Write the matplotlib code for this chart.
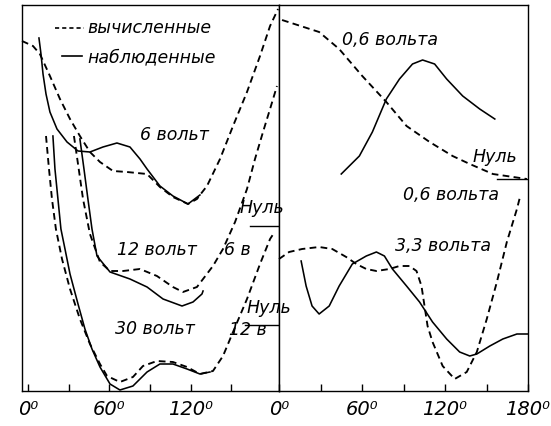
import matplotlib
matplotlib.use("Agg")
import matplotlib.pyplot as plt
from matplotlib.lines import Line2D

# ----------------------------
# data: angle (deg), intensity (arbitrary units)
# ----------------------------
# left panel
v6_calc_x = [-4.4, 3.7, 8.8, 16.2, 23.6, 31.0, 38.3, 45.7, 53.1, 62.7, 73.0, 87.8, 97.3, 106.9, 118.0, 124.6, 129.1, 132.0, 141.6, 151.2, 161.5, 171.1, 178.5, 184.4]
v6_calc_y = [350, 345, 337, 315, 292, 272, 255, 239, 229, 220, 219, 217, 204, 194, 187, 192, 200, 205, 232, 265, 299, 335, 365, 382]
v6_obs_x = [8.1, 9.6, 11.1, 13.3, 16.2, 21.4, 28.8, 36.9, 45.7, 55.3, 65.6, 75.2, 82.6, 87.8, 97.3, 106.9, 118.0, 126.8]
v6_obs_y = [353, 337, 317, 297, 279, 262, 249, 240, 239, 244, 248, 244, 232, 222, 205, 195, 187, 196]

v12_calc_x = [33.9, 36.9, 40.6, 45.7, 53.1, 60.5, 70.1, 82.6, 95.1, 106.9, 114.3, 124.6, 129.1, 136.4, 143.8, 152.7, 161.5, 167.4, 173.3, 178.5, 183.6]
v12_calc_y = [255, 227, 192, 157, 129, 120, 120, 122, 115, 104, 99, 104, 112, 125, 142, 169, 202, 232, 259, 282, 305]
v12_obs_x = [38.3, 41.3, 44.2, 47.2, 50.9, 60.5, 75.2, 87.8, 99.6, 113.6, 121.7, 128.3, 129.1]
v12_obs_y = [252, 222, 192, 162, 135, 119, 112, 104, 92, 85, 89, 97, 100]

v30_calc_x = [13.3, 15.5, 17.7, 20.6, 25.1, 31.0, 38.3, 45.7, 53.1, 58.3, 67.8, 77.4, 84.8, 95.1, 106.9, 117.3, 126.8, 136.4, 143.8, 151.2, 161.5, 171.1, 178.5, 181.4]
v30_calc_y = [255, 222, 192, 162, 132, 102, 72, 47, 27, 15, 9, 14, 25, 30, 29, 24, 17, 20, 35, 59, 92, 127, 152, 158]
v30_obs_x = [18.4, 19.9, 22.1, 24.3, 27.3, 31.0, 36.9, 42.0, 47.2, 53.1, 60.5, 67.8, 77.4, 87.8, 97.3, 106.9, 117.3, 126.8, 134.2]
v30_obs_y = [255, 222, 192, 162, 142, 117, 87, 62, 42, 24, 7, 1, 5, 19, 27, 27, 22, 17, 19]

# right panel
v06_calc_x = [2.2, 29.0, 43.5, 60.2, 77.6, 92.2, 108.9, 125.5, 137.9, 154.6, 179.2]
v06_calc_y = [371, 359, 342, 315, 289, 265, 249, 235, 227, 217, 212]
v06_obs_x = [45.0, 58.1, 67.5, 77.6, 87.1, 96.5, 103.8, 112.5, 121.2, 132.8, 145.1, 156.0]
v06_obs_y = [217, 235, 259, 292, 312, 327, 331, 327, 312, 295, 282, 272]

v33_calc_x = [0, 7.3, 16.7, 29.0, 38.5, 48.6, 55.9, 63.1, 70.4, 79.8, 87.1, 94.3, 99.4, 103.0, 105.2, 107.4, 111.0, 118.3, 127.0, 135.7, 143.0, 150.2, 157.5, 164.7, 172.0, 174.2]
v33_calc_y = [132, 139, 142, 144, 142, 134, 127, 122, 120, 122, 125, 125, 120, 105, 85, 65, 49, 25, 12, 19, 39, 72, 109, 149, 182, 194]
v33_obs_x = [16.0, 19.6, 23.9, 29.0, 36.3, 43.5, 53.0, 63.1, 70.4, 76.2, 82.0, 92.2, 101.6, 111.0, 121.2, 130.6, 137.9, 143.0, 152.4, 161.8, 172.0, 180]
v33_obs_y = [130, 105, 85, 77, 85, 105, 127, 135, 139, 135, 122, 105, 89, 69, 52, 39, 35, 37, 45, 52, 57, 57]

# zero levels ("Нуль")
zero_left_6 = 165
zero_left_12 = 66
zero_right_06 = 212

left_ticks = [0, 60, 120]
left_ticklabels = ["0⁰", "60⁰", "120⁰"]
right_ticks = [0, 60, 120, 180]
right_ticklabels = ["0⁰", "60⁰", "120⁰", "180⁰"]

W, H = 551, 427
DASH = (0, (3.6, 2.3))


def px(x, y):
    # pixel position -> figure fraction
    return x / W, 1 - y / H


fig = plt.figure(figsize=(W / 100, H / 100), dpi=100)
ax1 = fig.add_axes([22 / W, 35 / H, 257 / W, 386 / H])
ax2 = fig.add_axes([279 / W, 35 / H, 249 / W, 386 / H])

ax1.set_xlim(-4.4, 185.1)
ax2.set_xlim(0, 180)
for ax in (ax1, ax2):
    ax.set_ylim(0, 386)
    ax.set_yticks([])
    for s in ax.spines.values():
        s.set_linewidth(1.0)
    ax.tick_params(axis="x", which="both", direction="in", length=5, width=1, pad=6)

ax1.set_xticks(left_ticks)
ax1.set_xticklabels(left_ticklabels, fontsize=14, fontstyle="italic")
ax1.set_xticks([30, 90, 150], minor=True)
ax2.set_xticks(right_ticks)
ax2.set_xticklabels(right_ticklabels, fontsize=14, fontstyle="italic")
ax2.set_xticks([30, 90, 150], minor=True)

kw_c = dict(color="black", lw=1.35, linestyle=DASH, clip_on=False)
kw_o = dict(color="black", lw=1.15, solid_joinstyle="round", clip_on=False)

ax1.plot(v6_calc_x, v6_calc_y, **kw_c)
ax1.plot(v6_obs_x, v6_obs_y, **kw_o)
ax1.plot(v12_calc_x, v12_calc_y, **kw_c)
ax1.plot(v12_obs_x, v12_obs_y, **kw_o)
ax1.plot(v30_calc_x, v30_calc_y, **kw_c)
ax1.plot(v30_obs_x, v30_obs_y, **kw_o)

ax2.plot(v06_calc_x, v06_calc_y, **kw_c)
ax2.plot(v06_obs_x, v06_obs_y, **kw_o)
ax2.plot(v33_calc_x, v33_calc_y, **kw_c)
ax2.plot(v33_obs_x, v33_obs_y, **kw_o)

# zero lines
ax1.plot([163.7, 185.1], [zero_left_6, zero_left_6], color="black", lw=1)
ax1.plot([160.0, 185.1], [zero_left_12, zero_left_12], color="black", lw=1)
ax2.plot([157.5, 180], [zero_right_06, zero_right_06], color="black", lw=1)

# legend drawn by hand
fig.add_artist(Line2D([55 / W, 84 / W], [1 - 29 / H, 1 - 29 / H], color="black", lw=1.2, linestyle=(0, (2.5, 1.8))))
fig.add_artist(Line2D([62 / W, 82 / W], [1 - 57 / H, 1 - 57 / H], color="black", lw=1.2))

txt = dict(ha="left", va="center", fontstyle="italic", fontsize=12.5)
labels = [
    (87, 28, "вычисленные"),
    (87, 57, "наблюденные"),
    (140, 135, "6 вольт"),
    (117, 250, "12 вольт"),
    (224, 250, "6 в"),
    (115, 329, "30 вольт"),
    (229, 330, "12 в"),
    (240, 208, "Нуль"),
    (247, 308, "Нуль"),
    (342, 40, "0,6 вольта"),
    (473, 157, "Нуль"),
    (403, 195, "0,6 вольта"),
    (395, 246, "3,3 вольта"),
]
for x, y, s in labels:
    fx, fy = px(x, y)
    fig.text(fx, fy, s, **txt)

fig.savefig("out.png", dpi=100)
